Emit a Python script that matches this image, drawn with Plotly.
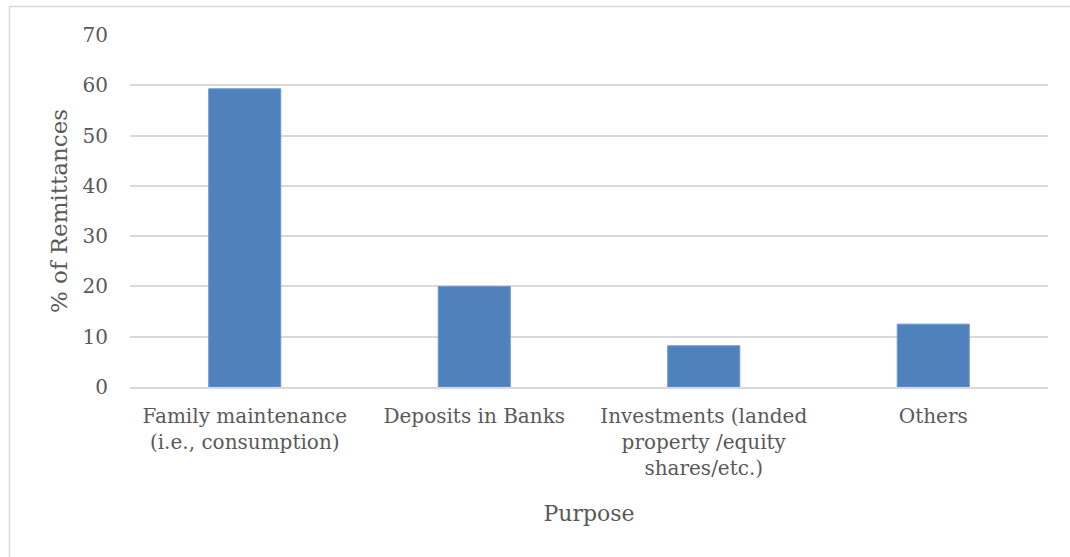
import plotly.graph_objects as go

# Purpose of remittances and their share (%)
categories = [
    "Family maintenance<br>(i.e., consumption)",
    "Deposits in Banks",
    "Investments (landed<br>property /equity<br>shares/etc.)",
    "Others",
]
shares = [59.3, 20.0, 8.2, 12.5]
y_ticks = [0, 10, 20, 30, 40, 50, 60, 70]

FONT = "DejaVu Serif"
TEXT = "#595959"

fig = go.Figure(
    go.Bar(
        x=categories,
        y=shares,
        width=0.314,
        marker=dict(color="#4F81BD", line=dict(color="#6C97CC", width=1)),
    )
)

# plot area margins in px
L, R, T, B = 130, 22, 35, 170
PW, PH = 1070 - L - R, 557 - T - B

# light frame around the whole chart
fig.add_shape(
    type="rect", xref="paper", yref="paper",
    x0=(9.5 - L) / PW, x1=(1080 - L) / PW,
    y0=-(570 - 557 + B) / PH, y1=1 + (T - 6.5) / PH,
    line=dict(color="#D9D9D9", width=1.5), fillcolor="rgba(0,0,0,0)",
    layer="below",
)

fig.update_layout(
    width=1070, height=557,
    margin=dict(l=L, r=R, t=T, b=B),
    paper_bgcolor="white", plot_bgcolor="white",
    font=dict(family=FONT, color=TEXT, size=20),
    showlegend=False,
    xaxis=dict(
        showgrid=False, showline=True, linecolor="#D9D9D9", linewidth=1.5,
        ticks="", ticklabelstandoff=10,
        tickfont=dict(size=20, color=TEXT),
        title=dict(text="Purpose", font=dict(size=22, color=TEXT), standoff=27),
    ),
    yaxis=dict(
        range=[0, 70], tickvals=y_ticks,
        showgrid=True, gridcolor="#D9D9D9", gridwidth=1.5,
        zeroline=False, showline=False, ticks="", ticklabelstandoff=21,
        tickfont=dict(size=20, color=TEXT),
        title=dict(text="% of Remittances", font=dict(size=23, color=TEXT), standoff=8),
    ),
)

fig.write_html("out.html")
